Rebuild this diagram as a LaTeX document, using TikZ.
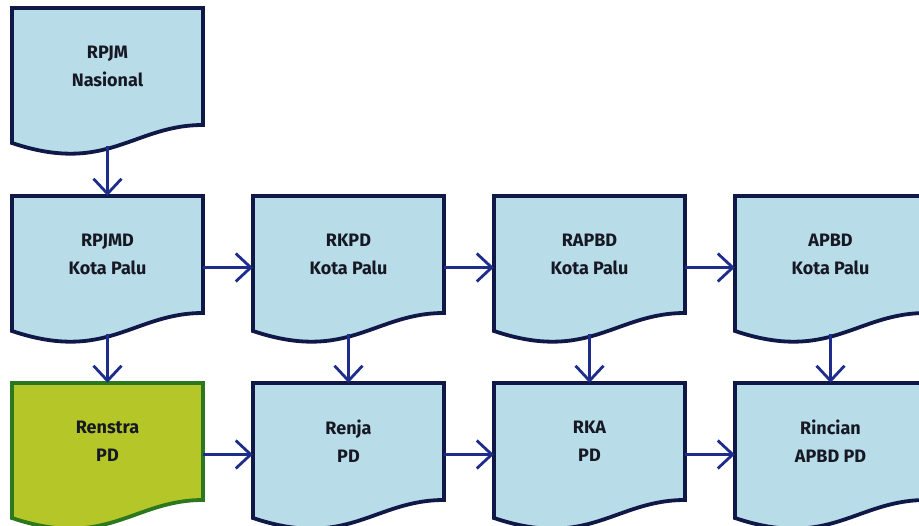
\documentclass[tikz,border=0pt]{standalone}
\usepackage{fontspec}
\setmainfont{Fira Sans}
\usetikzlibrary{arrows.meta}
\definecolor{boxfill}{RGB}{184,220,232}
\definecolor{boxline}{RGB}{16,24,72}
\definecolor{arrowc}{RGB}{30,44,140}
\definecolor{greenfill}{RGB}{181,198,40}
\definecolor{greenline}{RGB}{44,120,30}
\definecolor{txt}{RGB}{22,24,36}
\tikzset{
  docline/.style={line width=3.8pt, line join=miter},
  bluedoc/.style={docline, fill=boxfill, draw=boxline},
  greendoc/.style={docline, fill=greenfill, draw=greenline},
  boxtext/.style={minimum width=191pt, minimum height=117pt, inner sep=0pt,
    align=center, text=txt, font=\fontsize{18}{28}\selectfont\bfseries},
  flow/.style={draw=arrowc, line width=2.8pt,
    -{Straight Barb[length=15pt,width=28pt,line width=2.8pt]}},
}
% #1 left x, #2 top y, #3 style
\newcommand{\docpath}[3]{%
  \draw[#3] (#1,#2) -- ++(191,0) -- ++(0,117)
    .. controls +(-70,0) and +(95,32) .. ++(-191,18) -- cycle;}
\begin{document}
\begin{tikzpicture}[x=1pt,y=-1pt]
\useasboundingbox (0,0) rectangle (919,526);
\clip (0,0) rectangle (919,526);
% shapes
\docpath{12}{8}{bluedoc}
\docpath{12}{196}{bluedoc}
\docpath{253}{196}{bluedoc}
\docpath{494}{196}{bluedoc}
\docpath{735}{196}{bluedoc}
\docpath{12}{383}{greendoc}
\docpath{253}{383}{bluedoc}
\docpath{494}{383}{bluedoc}
\docpath{735}{383}{bluedoc}
% text nodes
\node[boxtext] (rpjm)    at (107.5,66.5)  {RPJM\\Nasional};
\node[boxtext] (rpjmd)   at (107.5,254.5) {RPJMD\\Kota Palu};
\node[boxtext] (rkpd)    at (348.5,254.5) {RKPD\\Kota Palu};
\node[boxtext] (rapbd)   at (589.5,254.5) {RAPBD\\Kota Palu};
\node[boxtext] (apbd)    at (830.5,254.5) {APBD\\Kota Palu};
\node[boxtext] (renstra) at (107.5,441.5) {Renstra\\PD};
\node[boxtext] (renja)   at (348.5,441.5) {Renja\\PD};
\node[boxtext] (rka)     at (589.5,441.5) {RKA\\PD};
\node[boxtext] (rincian) at (830.5,441.5) {Rincian\\APBD PD};
% vertical connectors
\draw[flow] ([yshift=-21pt]rpjm.south)  -- (rpjmd.north);
\draw[flow] ([yshift=-21pt]rpjmd.south) -- (renstra.north);
\draw[flow] ([yshift=-21pt]rkpd.south)  -- (renja.north);
\draw[flow] ([yshift=-21pt]rapbd.south) -- (rka.north);
\draw[flow] ([yshift=-21pt]apbd.south)  -- (rincian.north);
% horizontal connectors
\draw[flow] ([yshift=-13pt]rpjmd.east) -- ([yshift=-13pt]rkpd.west);
\draw[flow] ([yshift=-13pt]rkpd.east)  -- ([yshift=-13pt]rapbd.west);
\draw[flow] ([yshift=-13pt]rapbd.east) -- ([yshift=-13pt]apbd.west);
\draw[flow] ([yshift=-13pt]renstra.east) -- ([yshift=-13pt]renja.west);
\draw[flow] ([yshift=-13pt]renja.east)   -- ([yshift=-13pt]rka.west);
\draw[flow] ([yshift=-13pt]rka.east)     -- ([yshift=-13pt]rincian.west);
\end{tikzpicture}
\end{document}
